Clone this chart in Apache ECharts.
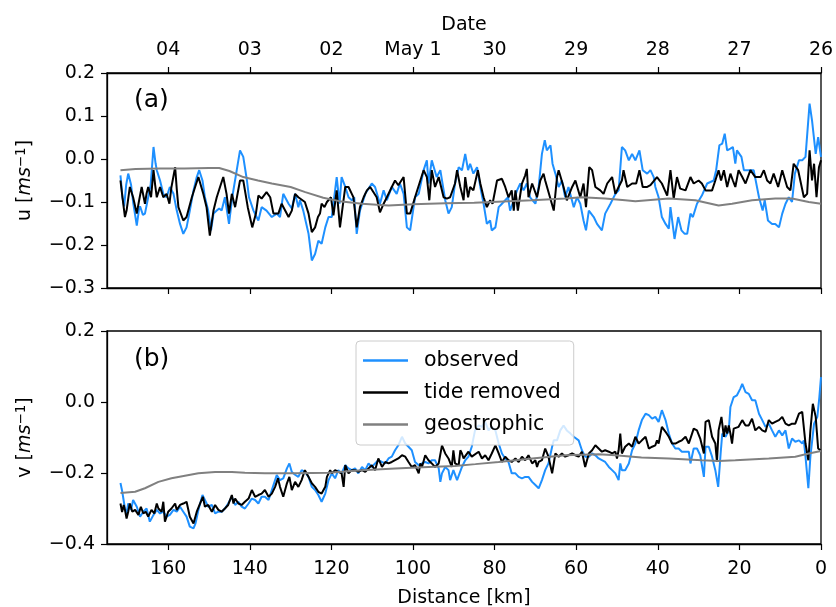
<!DOCTYPE html>
<html>
<head>
<meta charset="utf-8">
<script src="https://cdn.jsdelivr.net/npm/echarts@6/dist/echarts.min.js"></script>
<style>html,body{margin:0;padding:0;background:#fff}#c{width:836px;height:607px}</style>
</head>
<body>
<div id="c"></div>
<script>
// ---- Data (distance km, value m/s) ----
const distanceTicks = [0, 20, 40, 60, 80, 100, 120, 140, 160];
const dateTickLabels = ['26', '27', '28', '29', '30', 'May 1', '02', '03', '04'];
const seriesNames = ['observed', 'tide removed', 'geostrophic'];

const uObserved = [
[171.7,-0.038],[171.2,-0.09],[170.8,-0.11],[170.3,-0.06],[169.8,-0.034],[169.1,-0.06],[168.6,-0.1],[167.7,-0.155],[167.2,-0.12],[166.9,-0.11],[166.2,-0.13],[165.7,-0.127],[164.9,-0.089],[164.3,-0.06],[163.6,0.028],[163.1,-0.01],[162.8,-0.026],[162.0,-0.05],[161.2,-0.081],[160.4,-0.089],[159.6,-0.065],[158.7,-0.081],[157.9,-0.12],[157.1,-0.151],[156.3,-0.174],[155.5,-0.159],[154.7,-0.12],[153.8,-0.073],[153.0,-0.042],[152.4,-0.026],[151.6,-0.05],[151.0,-0.089],[150.2,-0.12],[149.5,-0.166],[148.9,-0.127],[148.1,-0.12],[147.5,-0.115],[146.9,-0.12],[146.1,-0.089],[145.1,-0.151],[144.3,-0.089],[143.2,-0.026],[142.4,0.02],[141.6,0.005],[140.7,-0.05],[140.2,-0.089],[139.1,-0.12],[137.9,-0.143],[137.1,-0.112],[135.9,-0.12],[134.6,-0.135],[133.4,-0.127],[132.6,-0.135],[131.8,-0.081],[130.5,-0.104],[129.7,-0.115],
[128.9,-0.081],[128.1,-0.112],[127.7,-0.096],[126.9,-0.12],[125.6,-0.174],[124.8,-0.236],[124.0,-0.221],[123.2,-0.19],[122.4,-0.197],[121.5,-0.159],[120.7,-0.135],[119.9,-0.135],[118.7,-0.042],[118.0,-0.104],[117.5,-0.042],[116.6,-0.065],[115.8,-0.089],[115.0,-0.096],[114.4,-0.089],[113.8,-0.174],[113.0,-0.12],[111.7,-0.081],[110.1,-0.057],[109.3,-0.065],[108.1,-0.104],[107.2,-0.073],[106.4,-0.096],[105.2,-0.065],[104.0,-0.081],[103.2,-0.057],[102.3,-0.081],[101.5,-0.159],[100.7,-0.166],[99.5,-0.089],[98.6,-0.081],[97.4,-0.026],[96.6,-0.003],[96.2,-0.057],[95.4,-0.003],[94.2,-0.042],[93.3,-0.026],[92.1,-0.096],[91.3,-0.127],[90.5,-0.112],[89.7,-0.057],[88.8,-0.019],[88.0,-0.026],[87.2,0.012],
[86.5,-0.026],[86.0,-0.011],[85.2,-0.034],[84.3,-0.019],[83.5,-0.065],[82.7,-0.104],[81.9,-0.151],[81.1,-0.143],[80.7,-0.166],[79.8,-0.159],[79.0,-0.112],[78.2,-0.104],[77.4,-0.096],[76.7,-0.089],[76.2,-0.12],[75.3,-0.096],[74.5,-0.073],[73.7,-0.057],[72.9,-0.073],[72.1,-0.057],[71.3,-0.089],[70.0,-0.104],[69.2,-0.065],[68.4,0.012],[67.7,0.044],[67.2,0.02],[66.3,0.032],[65.8,-0.011],[65.1,-0.034],[64.3,-0.065],[63.5,-0.05],[62.7,-0.089],[61.9,-0.065],[60.6,-0.112],[59.8,-0.089],[59.0,-0.104],[58.2,-0.143],[57.6,-0.166],[56.9,-0.12],[55.7,-0.135],[54.9,-0.151],[53.7,-0.166],[52.9,-0.127],[51.6,-0.104],[50.4,-0.081],[49.6,-0.073],[48.8,0.028],[48.0,0.02],[47.1,-0.003],[46.3,0.012],[45.5,-0.003],[44.5,0.02],[43.7,-0.026],
[42.6,-0.034],[41.8,-0.026],[41.0,-0.042],[40.6,-0.065],[39.8,-0.089],[39.0,-0.135],[38.1,-0.151],[37.3,-0.162],[36.9,-0.112],[35.9,-0.186],[35.0,-0.135],[34.2,-0.166],[33.4,-0.174],[32.8,-0.174],[32.0,-0.127],[31.4,-0.135],[30.4,-0.104],[29.2,-0.085],[27.9,-0.057],[26.3,-0.05],[25.7,-0.026],[24.9,0.032],[24.2,0.036],[23.6,0.059],[23.0,0.02],[22.2,0.024],[21.6,0.028],[21.0,-0.011],[20.6,0.02],[19.5,0.005],[18.9,-0.026],[17.7,-0.026],[16.5,-0.026],[15.2,-0.089],[14.3,-0.12],[13.8,-0.096],[13.0,-0.143],[12.0,-0.151],[11.2,-0.151],[10.3,-0.159],[9.5,-0.127],[8.7,-0.104],[7.9,-0.089],[7.1,-0.1],[6.4,-0.034],[5.4,-0.003],[4.6,-0.003],[3.8,0.005],[2.8,0.129],[2.2,0.09],[1.3,0.012],[0.7,0.051],[0.0,0.005]
];

const uTideRemoved = [
[171.7,-0.05],[171.2,-0.09],[170.6,-0.135],[170.2,-0.12],[169.4,-0.065],[168.6,-0.089],[167.7,-0.127],[167.2,-0.1],[166.5,-0.065],[165.7,-0.104],[165.3,-0.08],[164.9,-0.065],[164.2,-0.089],[163.6,-0.026],[163.2,-0.06],[162.8,-0.089],[162.0,-0.065],[161.2,-0.089],[160.4,-0.081],[159.7,-0.104],[159.2,-0.065],[158.3,-0.019],[157.9,-0.07],[157.5,-0.112],[156.3,-0.143],[155.5,-0.135],[154.2,-0.089],[153.4,-0.065],[152.6,-0.042],[151.4,-0.081],[150.6,-0.112],[149.8,-0.178],[148.9,-0.12],[148.1,-0.089],[147.3,-0.065],[146.5,-0.042],[145.7,-0.081],[145.1,-0.127],[144.4,-0.081],[143.6,-0.112],[142.4,-0.05],[141.6,-0.05],[140.5,-0.112],[139.4,-0.159],[138.5,-0.127],[137.9,-0.085],[137.1,-0.092],[135.9,-0.077],[135.0,-0.089],[134.2,-0.127],[133.0,-0.127],[132.2,-0.104],[130.5,-0.135],[129.7,-0.12],
[128.9,-0.081],[128.1,-0.089],[127.7,-0.085],[126.5,-0.1],[125.6,-0.127],[124.8,-0.17],[124.0,-0.159],[123.3,-0.135],[122.8,-0.127],[122.4,-0.104],[121.7,-0.112],[121.1,-0.1],[120.7,-0.104],[120.1,-0.089],[119.5,-0.131],[118.7,-0.073],[117.9,-0.159],[116.6,-0.065],[115.8,-0.065],[115.0,-0.081],[114.6,-0.089],[113.8,-0.159],[113.0,-0.112],[112.1,-0.089],[111.3,-0.073],[110.5,-0.065],[108.9,-0.089],[108.1,-0.124],[107.2,-0.104],[106.4,-0.089],[105.2,-0.065],[104.4,-0.05],[103.6,-0.061],[102.3,-0.042],[101.5,-0.127],[100.7,-0.127],[99.5,-0.089],[98.2,-0.05],[97.4,-0.026],[96.6,-0.042],[96.0,-0.096],[95.4,-0.026],[94.6,-0.065],[93.7,-0.042],[92.5,-0.089],[91.7,-0.092],[90.9,-0.089],[89.7,-0.057],[89.2,-0.026],[88.4,-0.065],[87.6,-0.096],
[87.2,-0.042],[86.5,-0.089],[86.0,-0.065],[85.2,-0.073],[84.1,-0.026],[83.5,-0.057],[82.7,-0.089],[81.9,-0.112],[81.1,-0.096],[80.5,-0.104],[79.4,-0.05],[78.2,-0.046],[77.4,-0.065],[76.6,-0.089],[75.8,-0.073],[75.3,-0.12],[74.9,-0.073],[74.3,-0.12],[73.3,-0.057],[72.5,-0.038],[72.1,-0.023],[71.7,-0.089],[70.8,-0.057],[69.6,-0.089],[68.8,-0.05],[68.0,-0.034],[67.6,-0.05],[65.5,-0.12],[64.7,-0.042],[64.3,-0.026],[63.1,-0.065],[62.3,-0.096],[61.0,-0.065],[60.2,-0.05],[59.0,-0.089],[58.2,-0.057],[57.6,-0.112],[56.8,-0.019],[56.1,-0.026],[55.3,-0.065],[54.1,-0.073],[53.3,-0.081],[52.4,-0.057],[51.2,-0.042],[50.4,-0.081],[49.6,-0.065],[48.8,-0.05],[48.4,-0.026],[47.5,-0.065],[46.3,-0.057],[45.3,-0.057],[44.5,-0.026],[43.7,-0.065],
[42.6,-0.065],[41.8,-0.061],[40.2,-0.042],[39.0,-0.057],[37.7,-0.085],[36.9,-0.026],[36.1,-0.092],[35.3,-0.042],[34.5,-0.069],[33.2,-0.073],[32.0,-0.042],[31.2,-0.057],[30.0,-0.05],[29.2,-0.057],[28.3,-0.073],[26.7,-0.073],[25.9,-0.05],[25.1,-0.026],[24.5,-0.05],[23.8,-0.026],[23.0,-0.065],[22.2,-0.034],[21.6,-0.05],[21.0,-0.065],[20.2,-0.026],[19.3,-0.042],[18.5,-0.057],[17.3,-0.026],[16.1,-0.042],[14.8,-0.042],[14.0,-0.026],[13.2,-0.05],[12.4,-0.057],[11.6,-0.034],[10.5,-0.065],[9.5,-0.026],[8.3,-0.065],[7.5,-0.073],[6.7,-0.011],[5.6,-0.026],[4.2,-0.089],[3.4,-0.081],[2.8,0.02],[2.2,-0.05],[1.7,-0.011],[1.1,-0.089],[0.5,-0.019],[0.0,-0.003]
];

const uGeostrophic = [
[171.7,-0.026],[168,-0.023],[162,-0.022],[156,-0.022],[150,-0.021],[147.5,-0.021],[145,-0.028],[141.6,-0.042],[138,-0.05],[134.6,-0.057],[130,-0.065],[126.4,-0.077],[122,-0.09],[118,-0.098],[112.5,-0.104],[106,-0.108],[100,-0.105],[92,-0.103],[85,-0.102],[80.7,-0.1],[70.8,-0.096],[62.7,-0.092],[58.6,-0.089],[52.9,-0.092],[48,-0.096],[45.5,-0.098],[37.3,-0.092],[30.8,-0.096],[25.1,-0.108],[21.8,-0.104],[16.9,-0.096],[11.2,-0.092],[7.1,-0.092],[3,-0.1],[0,-0.104]
];

const vObserved = [
[171.7,-0.228],[171.3,-0.25],[170.6,-0.3],[170.2,-0.314],[169.8,-0.286],[169.1,-0.304],[168.6,-0.276],[167.7,-0.295],[166.9,-0.323],[166.1,-0.309],[165.3,-0.3],[164.5,-0.337],[163.6,-0.318],[162.8,-0.304],[162.0,-0.314],[161.2,-0.309],[160.4,-0.323],[159.6,-0.318],[158.7,-0.304],[157.9,-0.309],[157.1,-0.295],[156.3,-0.309],[155.5,-0.323],[154.7,-0.351],[153.8,-0.356],[153.3,-0.342],[152.6,-0.304],[151.6,-0.262],[151.0,-0.276],[150.2,-0.295],[149.3,-0.29],[148.5,-0.314],[147.7,-0.309],[146.9,-0.309],[146.1,-0.3],[145.3,-0.286],[144.4,-0.267],[143.6,-0.29],[142.8,-0.281],[142.0,-0.295],[141.2,-0.3],[140.3,-0.286],[139.5,-0.272],[138.7,-0.276],[137.9,-0.286],[137.1,-0.267],[136.3,-0.267],[135.4,-0.276],[134.6,-0.248],[133.4,-0.206],[132.6,-0.22],[131.8,-0.215],[130.9,-0.187],[130.3,-0.173],[129.7,-0.197],
[128.9,-0.205],[128.1,-0.211],[127.3,-0.192],[126.5,-0.197],[125.6,-0.211],[124.8,-0.239],[124.0,-0.248],[123.2,-0.262],[122.4,-0.281],[121.5,-0.258],[120.7,-0.22],[119.9,-0.201],[119.1,-0.215],[118.3,-0.192],[117.5,-0.201],[116.6,-0.178],[115.8,-0.187],[115.0,-0.192],[114.2,-0.187],[113.4,-0.201],[112.5,-0.183],[111.7,-0.192],[110.9,-0.173],[110.1,-0.183],[109.3,-0.173],[108.5,-0.164],[107.6,-0.169],[106.8,-0.173],[106.0,-0.159],[105.2,-0.154],[104.4,-0.136],[103.6,-0.122],[102.7,-0.098],[101.9,-0.117],[101.1,-0.126],[100.3,-0.136],[99.5,-0.169],[98.6,-0.178],[97.8,-0.173],[97.0,-0.169],[96.2,-0.173],[95.4,-0.164],[94.6,-0.164],[93.7,-0.187],[93.3,-0.225],[92.9,-0.201],[92.1,-0.183],[91.3,-0.192],[90.9,-0.22],[90.1,-0.192],[89.2,-0.22],[88.8,-0.225],[88.0,-0.183],[87.2,-0.164],[86.4,-0.154],
[85.6,-0.126],[84.8,-0.08],[83.9,-0.066],[83.1,-0.07],[82.3,-0.056],[81.5,-0.08],[80.7,-0.07],[79.8,-0.08],[79.0,-0.117],[78.2,-0.145],[77.4,-0.159],[76.6,-0.169],[75.8,-0.201],[74.9,-0.201],[74.1,-0.211],[73.3,-0.215],[72.5,-0.211],[71.7,-0.211],[70.8,-0.225],[70.0,-0.234],[69.2,-0.243],[68.4,-0.22],[67.6,-0.192],[66.8,-0.173],[65.9,-0.126],[65.5,-0.108],[64.7,-0.108],[63.9,-0.08],[63.1,-0.066],[62.3,-0.08],[61.4,-0.089],[60.6,-0.098],[59.4,-0.108],[58.6,-0.136],[57.8,-0.154],[56.9,-0.154],[56.1,-0.145],[55.3,-0.15],[54.5,-0.159],[53.7,-0.164],[52.9,-0.169],[52.0,-0.183],[51.2,-0.192],[50.4,-0.201],[49.6,-0.22],[49.2,-0.173],[48.8,-0.192],[48.0,-0.192],[47.1,-0.173],[46.3,-0.136],[45.5,-0.117],[44.7,-0.08],
[43.9,-0.051],[43.0,-0.033],[42.2,-0.037],[41.4,-0.047],[40.6,-0.042],[39.8,-0.056],[39.0,-0.023],[38.1,-0.051],[37.3,-0.089],[36.5,-0.117],[35.7,-0.131],[34.9,-0.131],[34.1,-0.14],[33.2,-0.14],[32.4,-0.14],[32.0,-0.173],[31.2,-0.131],[30.4,-0.131],[29.6,-0.15],[28.7,-0.211],[28.3,-0.126],[27.5,-0.126],[26.7,-0.154],[25.9,-0.192],[25.2,-0.239],[24.6,-0.145],[24.2,-0.089],[23.4,-0.098],[22.6,-0.08],[22.2,-0.014],[21.4,0.014],[20.6,0.019],[19.8,0.037],[19.3,0.051],[18.5,0.028],[17.7,0.023],[16.9,0.005],[16.1,0.005],[15.2,-0.033],[14.4,-0.051],[13.6,-0.07],[12.8,-0.061],[12.0,-0.08],[11.2,-0.098],[10.3,-0.08],[9.5,-0.094],[8.7,-0.08],[7.9,-0.131],[7.1,-0.103],[6.3,-0.112],[5.4,-0.108],[4.6,-0.117],[4.2,-0.108],[3.8,-0.154],[3.1,-0.243],[2.6,-0.154],[1.7,-0.061],[0.9,-0.042],[0.4,0.014],[0.0,0.07]
];

const vTideRemoved = [
[171.7,-0.286],[171.3,-0.31],[170.9,-0.29],[170.6,-0.304],[170.2,-0.328],[169.8,-0.309],[169.4,-0.286],[168.8,-0.309],[168.1,-0.304],[167.3,-0.318],[166.7,-0.295],[166.1,-0.314],[165.5,-0.309],[164.9,-0.323],[164.1,-0.304],[163.4,-0.314],[162.8,-0.286],[162.4,-0.3],[161.6,-0.309],[161.2,-0.281],[160.8,-0.337],[160.0,-0.309],[159.2,-0.3],[158.3,-0.286],[157.9,-0.304],[157.1,-0.29],[156.3,-0.286],[155.5,-0.281],[154.7,-0.323],[153.8,-0.342],[153.0,-0.309],[152.2,-0.286],[151.5,-0.267],[151.0,-0.295],[150.2,-0.29],[149.3,-0.309],[148.5,-0.29],[147.7,-0.304],[146.9,-0.309],[146.1,-0.3],[145.3,-0.29],[144.4,-0.262],[144.0,-0.286],[143.6,-0.272],[142.8,-0.286],[142.0,-0.29],[141.2,-0.281],[140.3,-0.272],[139.5,-0.248],[138.7,-0.267],[137.9,-0.262],[137.1,-0.258],[136.3,-0.248],[135.4,-0.267],[134.6,-0.258],[133.8,-0.239],[133.1,-0.215],[132.6,-0.239],[131.8,-0.267],[130.9,-0.229],[130.3,-0.211],[129.7,-0.248],
[128.9,-0.225],[128.1,-0.239],[127.3,-0.22],[126.5,-0.192],[125.6,-0.211],[124.8,-0.229],[124.0,-0.239],[123.2,-0.253],[122.4,-0.258],[121.5,-0.239],[121.1,-0.211],[120.3,-0.192],[119.9,-0.201],[119.1,-0.192],[118.3,-0.197],[117.5,-0.201],[117.0,-0.239],[116.6,-0.178],[115.8,-0.201],[115.0,-0.192],[114.2,-0.192],[113.4,-0.197],[112.5,-0.192],[111.7,-0.197],[110.9,-0.187],[110.1,-0.178],[109.3,-0.192],[108.5,-0.159],[107.6,-0.183],[106.8,-0.169],[106.0,-0.173],[105.2,-0.169],[104.4,-0.164],[103.6,-0.159],[102.7,-0.15],[101.9,-0.154],[101.1,-0.169],[100.3,-0.183],[99.5,-0.178],[98.6,-0.201],[98.2,-0.173],[97.8,-0.183],[97.0,-0.15],[96.2,-0.164],[95.4,-0.173],[94.6,-0.183],[93.7,-0.173],[92.9,-0.122],[92.1,-0.145],[91.3,-0.159],[90.5,-0.183],[90.1,-0.136],[89.7,-0.173],[88.8,-0.178],[88.4,-0.136],[88.0,-0.145],[87.6,-0.159],[87.2,-0.154],[86.4,-0.14],[85.6,-0.154],
[83.9,-0.14],[83.1,-0.159],[82.3,-0.15],[81.5,-0.164],[80.7,-0.145],[79.8,-0.122],[79.0,-0.145],[78.2,-0.169],[77.4,-0.154],[76.6,-0.164],[75.8,-0.169],[74.9,-0.159],[74.1,-0.169],[73.3,-0.154],[72.5,-0.164],[71.7,-0.15],[70.8,-0.173],[70.0,-0.164],[69.6,-0.183],[69.2,-0.169],[68.4,-0.164],[67.6,-0.131],[66.8,-0.154],[65.9,-0.201],[65.1,-0.145],[64.3,-0.154],[63.5,-0.145],[62.7,-0.154],[61.9,-0.15],[61.0,-0.145],[60.2,-0.15],[59.4,-0.154],[58.6,-0.14],[57.8,-0.183],[56.9,-0.145],[56.1,-0.136],[55.3,-0.122],[54.5,-0.131],[53.7,-0.14],[52.9,-0.136],[52.0,-0.14],[51.2,-0.145],[50.4,-0.14],[50.0,-0.159],[49.6,-0.136],[49.2,-0.089],[48.8,-0.145],[48.0,-0.126],[47.1,-0.117],[46.3,-0.126],[45.5,-0.098],[44.7,-0.117],[43.9,-0.108],
[43.0,-0.098],[42.2,-0.131],[41.4,-0.126],[40.6,-0.122],[40.2,-0.108],[39.8,-0.117],[39.0,-0.07],[38.1,-0.084],[37.3,-0.098],[36.5,-0.117],[35.7,-0.117],[34.9,-0.112],[34.1,-0.108],[33.2,-0.098],[32.4,-0.117],[31.2,-0.075],[30.4,-0.08],[29.6,-0.103],[28.7,-0.145],[28.3,-0.056],[27.5,-0.051],[26.7,-0.098],[25.9,-0.117],[25.5,-0.169],[25.1,-0.08],[24.4,-0.042],[23.8,-0.098],[23.4,-0.066],[23.0,-0.089],[22.6,-0.066],[22.2,-0.089],[21.8,-0.117],[21.4,-0.075],[21.0,-0.07],[20.2,-0.07],[19.3,-0.051],[18.5,-0.066],[17.7,-0.066],[16.9,-0.047],[16.1,-0.08],[15.2,-0.07],[14.4,-0.08],[13.6,-0.084],[12.8,-0.051],[12.0,-0.061],[11.2,-0.056],[10.3,-0.051],[9.5,-0.042],[8.7,-0.061],[7.9,-0.066],[7.1,-0.061],[6.3,-0.061],[5.4,-0.033],[4.6,-0.028],[4.2,-0.028],[3.8,-0.117],[3.1,-0.164],[2.6,-0.08],[2.0,-0.005],[1.3,-0.042],[0.7,-0.131],[0.1,-0.136]
];

const vGeostrophic = [
[171.7,-0.256],[168.1,-0.253],[165.7,-0.243],[162.4,-0.225],[159.2,-0.215],[155.9,-0.208],[152.6,-0.201],[148.5,-0.197],[144.4,-0.197],[141.2,-0.199],[136.3,-0.201],[131.4,-0.201],[128.9,-0.201],[120.7,-0.199],[112.5,-0.192],[104.4,-0.187],[96.2,-0.183],[89.7,-0.18],[84.7,-0.175],[79.0,-0.169],[70.8,-0.159],[62.7,-0.15],[54.5,-0.147],[50.4,-0.15],[44,-0.156],[37.3,-0.159],[29.2,-0.164],[25.1,-0.166],[21.0,-0.164],[12.8,-0.159],[6.3,-0.154],[3.0,-0.145],[0,-0.138]
];

// ---- Chart ----
const FONT = 'DejaVu Sans';
const colors = { 'observed': '#1e90ff', 'tide removed': '#000000', 'geostrophic': '#808080' };
const fmtY = v => { const s = (Math.round(v * 10) / 10).toFixed(1); return s.replace('-', '\u2212'); };

const gridA = { left: 107, top: 73, width: 714, height: 215 };
const gridB = { left: 107, top: 331, width: 714, height: 213 };

function baseX(gridIndex, position, extra) {
  return Object.assign({
    type: 'value', gridIndex: gridIndex, position: position, min: 0, max: 175, inverse: true,
    splitLine: { show: false },
    axisLine: { show: true, onZero: false, lineStyle: { color: '#000', width: 1.3 } },
    axisTick: { show: true, length: 6, lineStyle: { color: '#000', width: 1.2 }, customValues: distanceTicks },
    axisLabel: { show: false }
  }, extra);
}
function baseY(gridIndex, min, max, interval, label) {
  return {
    type: 'value', gridIndex: gridIndex, min: min, max: max, interval: interval,
    splitLine: { show: false },
    axisLine: { show: true, onZero: false, lineStyle: { color: '#000', width: 1.3 } },
    axisTick: { show: true, length: 6, lineStyle: { color: '#000', width: 1.2 } },
    axisLabel: { color: '#000', fontFamily: FONT, fontSize: 19, margin: 12, formatter: fmtY },
    name: '{t|' + label + ' [}{i|ms}{s|\u22121}{t|]}',
    nameLocation: 'middle', nameGap: 71, nameRotate: 90,
    nameTextStyle: {
      color: '#000', fontFamily: FONT, fontSize: 19,
      rich: {
        t: { fontFamily: FONT, fontSize: 19, color: '#000' },
        i: { fontFamily: FONT, fontSize: 19, fontStyle: 'italic', color: '#000' },
        s: { fontFamily: FONT, fontSize: 13.5, color: '#000', verticalAlign: 'top', padding: [0, 0, 8, 0] }
      }
    }
  };
}

function lineSeries(name, data, xi, yi) {
  return {
    type: 'line', name: name, data: data, xAxisIndex: xi, yAxisIndex: yi,
    symbol: 'none', showSymbol: false, smooth: false, clip: true,
    lineStyle: { color: colors[name], width: 2 }, itemStyle: { color: colors[name] },
    emphasis: { disabled: true }
  };
}

const gridCommon = { show: true, borderColor: '#000', borderWidth: 1.3, backgroundColor: 'transparent', containLabel: false, outerBoundsMode: 'none' };

const option = {
  animation: false,
  backgroundColor: '#fff',
  textStyle: { fontFamily: FONT },
  grid: [
    Object.assign({}, gridCommon, gridA),
    Object.assign({}, gridCommon, gridB)
  ],
  title: [
    { text: '(a)', left: 129, top: 83, textStyle: { fontFamily: FONT, fontSize: 25, fontWeight: 'normal', color: '#000' } },
    { text: '(b)', left: 129, top: 342, textStyle: { fontFamily: FONT, fontSize: 25, fontWeight: 'normal', color: '#000' } }
  ],
  legend: {
    data: seriesNames.map(n => ({ name: n, icon: 'rect', itemStyle: { color: colors[n] } })),
    orient: 'vertical', left: 356, top: 341,
    itemWidth: 45, itemHeight: 2.5, itemGap: 11,
    padding: [9, 13, 10, 7],
    backgroundColor: 'rgba(255,255,255,0.8)', borderColor: '#cccccc', borderWidth: 1, borderRadius: 4,
    textStyle: { fontFamily: FONT, fontSize: 20.5, color: '#000', lineHeight: 20, padding: [0, 0, 0, 11] },
    selectedMode: false
  },
  xAxis: [
    baseX(0, 'bottom', {}),
    baseX(0, 'top', {
      axisLabel: { show: true, color: '#000', fontFamily: FONT, fontSize: 19, margin: 13, customValues: distanceTicks,
        formatter: v => dateTickLabels[distanceTicks.indexOf(Math.round(v))] || '' },
      name: 'Date', nameLocation: 'middle', nameGap: 38,
      nameTextStyle: { color: '#000', fontFamily: FONT, fontSize: 19 }
    }),
    baseX(1, 'bottom', {
      axisLabel: { show: true, color: '#000', fontFamily: FONT, fontSize: 19, margin: 16, customValues: distanceTicks,
        formatter: v => String(Math.round(v)) },
      name: 'Distance [km]', nameLocation: 'middle', nameGap: 45,
      nameTextStyle: { color: '#000', fontFamily: FONT, fontSize: 19 }
    })
  ],
  yAxis: [
    baseY(0, -0.3, 0.2, 0.1, 'u'),
    baseY(1, -0.4, 0.2, 0.2, 'v')
  ],
  series: [
    lineSeries('observed', uObserved, 0, 0),
    lineSeries('tide removed', uTideRemoved, 0, 0),
    lineSeries('geostrophic', uGeostrophic, 0, 0),
    lineSeries('observed', vObserved, 2, 1),
    lineSeries('tide removed', vTideRemoved, 2, 1),
    lineSeries('geostrophic', vGeostrophic, 2, 1)
  ]
};

const chart = echarts.init(document.getElementById('c'), null, { renderer: 'canvas' });
chart.setOption(option);
</script>
</body>
</html>
